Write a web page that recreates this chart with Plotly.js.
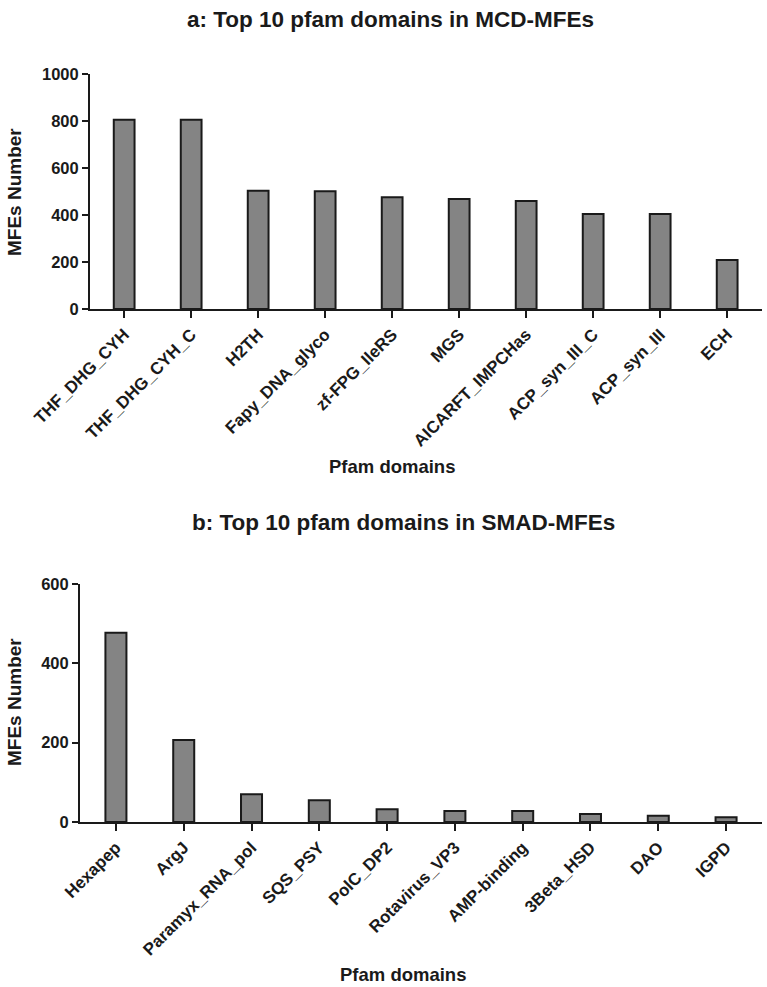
<!DOCTYPE html>
<html>
<head>
<meta charset="utf-8">
<script src="https://cdn.plot.ly/plotly-3.0.1.min.js"></script>
<style>html,body{margin:0;padding:0;background:#fff;}#chart{width:767px;height:987px;}</style>
</head>
<body>
<div id="chart"></div>
<script>
const categoriesA = ["THF_DHG_CYH","THF_DHG_CYH_C","H2TH","Fapy_DNA_glyco","zf-FPG_IleRS","MGS","AICARFT_IMPCHas","ACP_syn_III_C","ACP_syn_III","ECH"];
const valuesA = [805, 805, 503, 501, 476, 468, 460, 404, 404, 208];
const categoriesB = ["Hexapep","ArgJ","Paramyx_RNA_pol","SQS_PSY","PolC_DP2","Rotavirus_VP3","AMP-binding","3Beta_HSD","DAO","IGPD"];
const valuesB = [477, 207, 70, 55, 32, 28, 28, 20, 16, 12];
const ticksA = [0, 200, 400, 600, 800, 1000];
const ticksB = [0, 200, 400, 600];

const ink = '#1a1a1a';
const fontFam = '"Liberation Sans", Arial, sans-serif';
const barStyle = {color: '#848484', line: {color: ink, width: 2}};

const traces = [
  {type: 'bar', x: categoriesA, y: valuesA, xaxis: 'x', yaxis: 'y', width: 0.31, marker: barStyle, hoverinfo: 'x+y'},
  {type: 'bar', x: categoriesB, y: valuesB, xaxis: 'x2', yaxis: 'y2', width: 0.31, marker: barStyle, hoverinfo: 'x+y'}
];

const xCommon = {
  type: 'category', showgrid: false, zeroline: false, showline: true, linecolor: ink, linewidth: 2,
  ticks: 'outside', ticklen: 7, tickwidth: 2, tickcolor: ink, tickangle: -45,
  tickfont: {family: fontFam, size: 17, color: ink, weight: 'bold'}, fixedrange: true
};
const yCommon = {
  showgrid: false, zeroline: false, showline: true, linecolor: ink, linewidth: 2,
  ticks: 'outside', ticklen: 6, tickwidth: 2, tickcolor: ink,
  tickfont: {family: fontFam, size: 16.5, color: ink, weight: 'bold'}, fixedrange: true
};

const H = 987, W = 767;
const py = v => 1 - v / H;
const px = v => v / W;

const layout = {
  width: W, height: H,
  margin: {l: 0, r: 0, t: 0, b: 0},
  paper_bgcolor: '#fff', plot_bgcolor: '#fff',
  showlegend: false,
  xaxis: Object.assign({}, xCommon, {domain: [px(90), px(762)], range: [-0.51, 9.52], anchor: 'y'}),
  yaxis: Object.assign({}, yCommon, {domain: [py(309), py(74)], range: [0, 1000], tickvals: ticksA, anchor: 'x'}),
  xaxis2: Object.assign({}, xCommon, {domain: [px(80), px(762)], range: [-0.53, 9.53], anchor: 'y2'}),
  yaxis2: Object.assign({}, yCommon, {domain: [py(822), py(584)], range: [0, 600], tickvals: ticksB, anchor: 'x2'}),
  annotations: [
    {text: 'a: Top 10 pfam domains in MCD-MFEs', xref: 'paper', yref: 'paper', x: px(391), y: py(19), xanchor: 'center', yanchor: 'middle', showarrow: false,
     font: {family: fontFam, size: 22.5, color: ink, weight: 'bold'}},
    {text: 'b: Top 10 pfam domains in SMAD-MFEs', xref: 'paper', yref: 'paper', x: px(403), y: py(522), xanchor: 'center', yanchor: 'middle', showarrow: false,
     font: {family: fontFam, size: 22.5, color: ink, weight: 'bold'}},
    {text: 'MFEs Number', xref: 'paper', yref: 'paper', x: px(14), y: py(192), xanchor: 'center', yanchor: 'middle', textangle: -90, showarrow: false,
     font: {family: fontFam, size: 19, color: ink, weight: 'bold'}},
    {text: 'MFEs Number', xref: 'paper', yref: 'paper', x: px(14), y: py(702), xanchor: 'center', yanchor: 'middle', textangle: -90, showarrow: false,
     font: {family: fontFam, size: 19, color: ink, weight: 'bold'}},
    {text: 'Pfam domains', xref: 'paper', yref: 'paper', x: px(392), y: py(466), xanchor: 'center', yanchor: 'middle', showarrow: false,
     font: {family: fontFam, size: 18.5, color: ink, weight: 'bold'}},
    {text: 'Pfam domains', xref: 'paper', yref: 'paper', x: px(403), y: py(974), xanchor: 'center', yanchor: 'middle', showarrow: false,
     font: {family: fontFam, size: 18.5, color: ink, weight: 'bold'}}
  ]
};

Plotly.newPlot('chart', traces, layout, {displayModeBar: false, staticPlot: true});
</script>
</body>
</html>
